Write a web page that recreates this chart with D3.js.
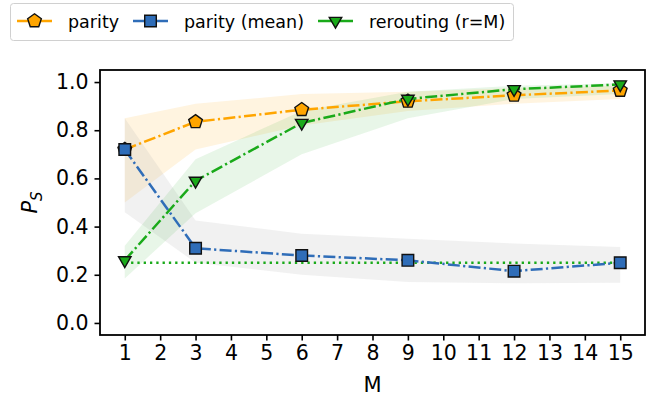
<!DOCTYPE html>
<html>
<head>
<meta charset="utf-8">
<script src="https://cdn.jsdelivr.net/npm/d3@7"></script>
<style>
body { margin: 0; background: #fff; }
text { font-family: "DejaVu Sans", sans-serif; }
</style>
</head>
<body>
<script>
var M = [1, 3, 6, 9, 12, 15];
var parity = [0.72, 0.835, 0.885, 0.92, 0.945, 0.965];
var parityLo = [0.50, 0.72, 0.82, 0.88, 0.91, 0.93];
var parityHi = [0.85, 0.91, 0.95, 0.96, 0.975, 0.985];
var parityMean = [0.72, 0.31, 0.28, 0.26, 0.215, 0.25];
var meanLo = [0.46, 0.25, 0.20, 0.17, 0.165, 0.167];
var meanHi = [0.85, 0.425, 0.37, 0.35, 0.33, 0.315];
var rerouting = [0.26, 0.59, 0.83, 0.93, 0.97, 0.99];
var rerLo = [0.185, 0.455, 0.70, 0.85, 0.93, 0.95];
var rerHi = [0.32, 0.68, 0.88, 0.96, 0.985, 0.995];
var baseline = 0.25;
var xTicks = d3.range(1, 16);
var yTicks = [0, 0.2, 0.4, 0.6, 0.8, 1.0];

var width = 656, height = 401;
var pLeft = 100, pRight = 645, pTop = 70, pBottom = 335;

var svg = d3.select('body').append('svg')
	.attr('width', width)
	.attr('height', height);

var x = d3.scaleLinear().domain([0.3, 15.7]).range([pLeft, pRight]);
var y = d3.scaleLinear().domain([-0.05, 1.05]).range([pBottom, pTop]);

var orange = '#ffa500', blue = '#2f6db8', green = '#1aaa1a';

function band(lo, hi, color, op) {
	var area = d3.area()
		.x(function(d, i){ return x(M[i]) })
		.y0(function(d, i){ return y(lo[i]) })
		.y1(function(d, i){ return y(hi[i]) });
	svg.append('path').attr('d', area(M)).attr('fill', color).attr('opacity', op);
}
band(parityLo, parityHi, orange, 0.12);
band(meanLo, meanHi, '#b0b0b0', 0.18);
band(rerLo, rerHi, green, 0.1);

// dotted baseline
svg.append('line')
	.attr('x1', x(1)).attr('x2', x(15))
	.attr('y1', y(baseline)).attr('y2', y(baseline))
	.attr('stroke', green).attr('stroke-width', 2.5)
	.attr('stroke-dasharray', '2.3,4');

var line = d3.line()
	.x(function(d, i){ return x(M[i]) })
	.y(function(d){ return y(d) });

function pentagonPath(r) {
	var p = [];
	for (var k = 0; k < 5; k++) {
		var a = -Math.PI / 2 + k * 2 * Math.PI / 5;
		p.push([r * Math.cos(a), r * Math.sin(a)]);
	}
	return 'M' + p.join('L') + 'Z';
}
function squarePath(s) { return 'M' + (-s) + ',' + (-s) + 'H' + s + 'V' + s + 'H' + (-s) + 'Z'; }
function triPath(r) {
	return 'M' + (-r * 0.866) + ',' + (-r * 0.5) + 'L' + (r * 0.866) + ',' + (-r * 0.5) + 'L0,' + r + 'Z';
}

var series = [
	{ vals: parity, color: orange, shape: pentagonPath(7.2) },
	{ vals: parityMean, color: blue, shape: squarePath(5.8) },
	{ vals: rerouting, color: green, shape: triPath(7.2) }
];

series.forEach(function(s) {
	svg.append('path')
		.attr('d', line(s.vals))
		.attr('fill', 'none')
		.attr('stroke', s.color)
		.attr('stroke-width', 2.5)
		.attr('stroke-dasharray', '12,3.3,2.2,3.3');
	svg.selectAll(null)
		.data(s.vals)
		.enter().append('path')
			.attr('d', s.shape)
			.attr('transform', function(d, i){ return 'translate(' + x(M[i]) + ',' + y(d) + ')' })
			.attr('fill', s.color)
			.attr('stroke', '#111')
			.attr('stroke-width', 1.4);
});

// frame
svg.append('rect')
	.attr('x', pLeft).attr('y', pTop)
	.attr('width', pRight - pLeft).attr('height', pBottom - pTop)
	.attr('fill', 'none').attr('stroke', '#000').attr('stroke-width', 1.8);

var xAxis = svg.append('g')
	.attr('transform', 'translate(0,' + pBottom + ')')
	.call(d3.axisBottom(x).tickValues(xTicks).tickSize(5.5).tickPadding(5).tickFormat(d3.format('d')));
var yAxis = svg.append('g')
	.attr('transform', 'translate(' + pLeft + ',0)')
	.call(d3.axisLeft(y).tickValues(yTicks).tickSize(5.5).tickPadding(6).tickFormat(d3.format('.1f')));
[xAxis, yAxis].forEach(function(a) {
	a.select('.domain').remove();
	a.selectAll('.tick line').attr('stroke', '#000').attr('stroke-width', 1.6);
	a.selectAll('.tick text').attr('font-size', 20.5).attr('font-family', 'DejaVu Sans').attr('fill', '#000');
});

svg.append('text')
	.attr('x', (pLeft + pRight) / 2).attr('y', 392)
	.attr('text-anchor', 'middle').attr('font-size', 21)
	.text('M');

var yl = svg.append('text')
	.attr('transform', 'translate(37,' + ((pTop + pBottom) / 2) + ') rotate(-90)')
	.attr('text-anchor', 'middle').attr('font-size', 21);
yl.append('tspan').attr('font-style', 'italic').text('P');
yl.append('tspan').attr('font-style', 'italic').attr('font-size', 15).attr('dy', 5).text('S');

// legend
var legNames = ['parity', 'parity (mean)', 'rerouting (r=M)'];
var legX = [17, 133, 318];
var lg = svg.append('g');
lg.append('rect')
	.attr('x', 10.5).attr('y', 3.5).attr('width', 503).attr('height', 37).attr('rx', 3)
	.attr('fill', '#fff').attr('stroke', '#d0d0d0');
series.forEach(function(s, i) {
	var g = lg.append('g').attr('transform', 'translate(' + legX[i] + ',21)');
	g.append('line').attr('x1', 0).attr('x2', 35).attr('stroke', s.color).attr('stroke-width', 2.5);
	g.append('path').attr('d', s.shape).attr('transform', 'translate(17.5,0)')
		.attr('fill', s.color).attr('stroke', '#111').attr('stroke-width', 1.4);
	g.append('text').attr('x', 51).attr('y', 6.5).attr('font-size', 17.5).text(legNames[i]);
});
</script>
</body>
</html>
